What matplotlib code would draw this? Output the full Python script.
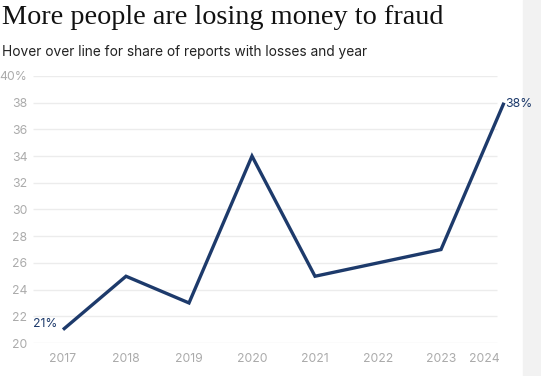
import matplotlib
matplotlib.use("Agg")
import matplotlib.pyplot as plt
from matplotlib.patches import Rectangle
from matplotlib.transforms import ScaledTranslation

# data
years = [2017, 2018, 2019, 2020, 2021, 2022, 2023, 2024]
share = [21, 25, 23, 34, 25, 26, 27, 38]
y_ticks = [20, 22, 24, 26, 28, 30, 32, 34, 36, 38, 40]
y_labels = ["20", "22", "24", "26", "28", "30", "32", "34", "36", "38", "40%"]

NAVY = "#1d3a6b"
GRAY = "#ababab"

W, H = 541, 376
fig = plt.figure(figsize=(W / 100, H / 100), dpi=100)

# gray strip on the right edge (behind everything)
fig.patches.append(Rectangle((523 / W, 0), 18 / W, 1, transform=fig.transFigure,
                             color="#f2f2f2", zorder=-5))

# axes span 33px .. 504px, 63px per year, 2017 at 63px
ax = fig.add_axes([33 / W, 33 / H, (504 - 33) / W, (300 - 33) / H])
ax.patch.set_alpha(0)

ax.plot(years, share, color=NAVY, lw=2.4, solid_capstyle="butt",
        solid_joinstyle="miter", clip_on=False, zorder=3)

ax.set_xticks(years)
ax.set_xticklabels([str(y) for y in years])
ax.set_yticks(y_ticks)
ax.set_yticklabels(y_labels)
x0 = years[0] - 30 / 63
ax.set_xlim(x0, years[-1])
ax.set_ylim(20, 40)

# gridlines stop a little short of the last year
ax.hlines(y_ticks, x0, years[-1] - 7 / 63, color="#ececec", lw=1, zorder=0)

for lbl in ax.get_xticklabels() + ax.get_yticklabels():
    lbl.set_fontfamily("Inter")
ax.tick_params(axis="both", length=0, labelsize=8.8, labelcolor=GRAY)
ax.tick_params(axis="y", pad=4)
ax.tick_params(axis="x", pad=7)
last = ax.get_xticklabels()[-1]
last.set_horizontalalignment("right")
last.set_transform(last.get_transform() + ScaledTranslation(-3 / 72, 0, fig.dpi_scale_trans))

for s in ax.spines.values():
    s.set_visible(False)

# end labels
ax.annotate(f"{share[0]}%", (years[0], share[0]), xytext=(-4, 0),
            textcoords="offset points", ha="right", va="bottom",
            color=NAVY, fontsize=8.8, family="Inter", annotation_clip=False)
ax.annotate(f"{share[-1]}%", (years[-1], share[-1]), xytext=(1, -1),
            textcoords="offset points", ha="left", va="center",
            color=NAVY, fontsize=8.8, family="Inter", annotation_clip=False,
            zorder=10)

fig.text(2 / W, 1 - 18 / H, "More people are losing money to fraud",
         family="Liberation Serif", fontsize=20.3, color="#111111",
         ha="left", va="center")
fig.text(2 / W, 1 - 52 / H, "Hover over line for share of reports with losses and year",
         family="Inter", fontsize=9.9, color="#222222", ha="left", va="center")

fig.savefig("out.png", dpi=100)
